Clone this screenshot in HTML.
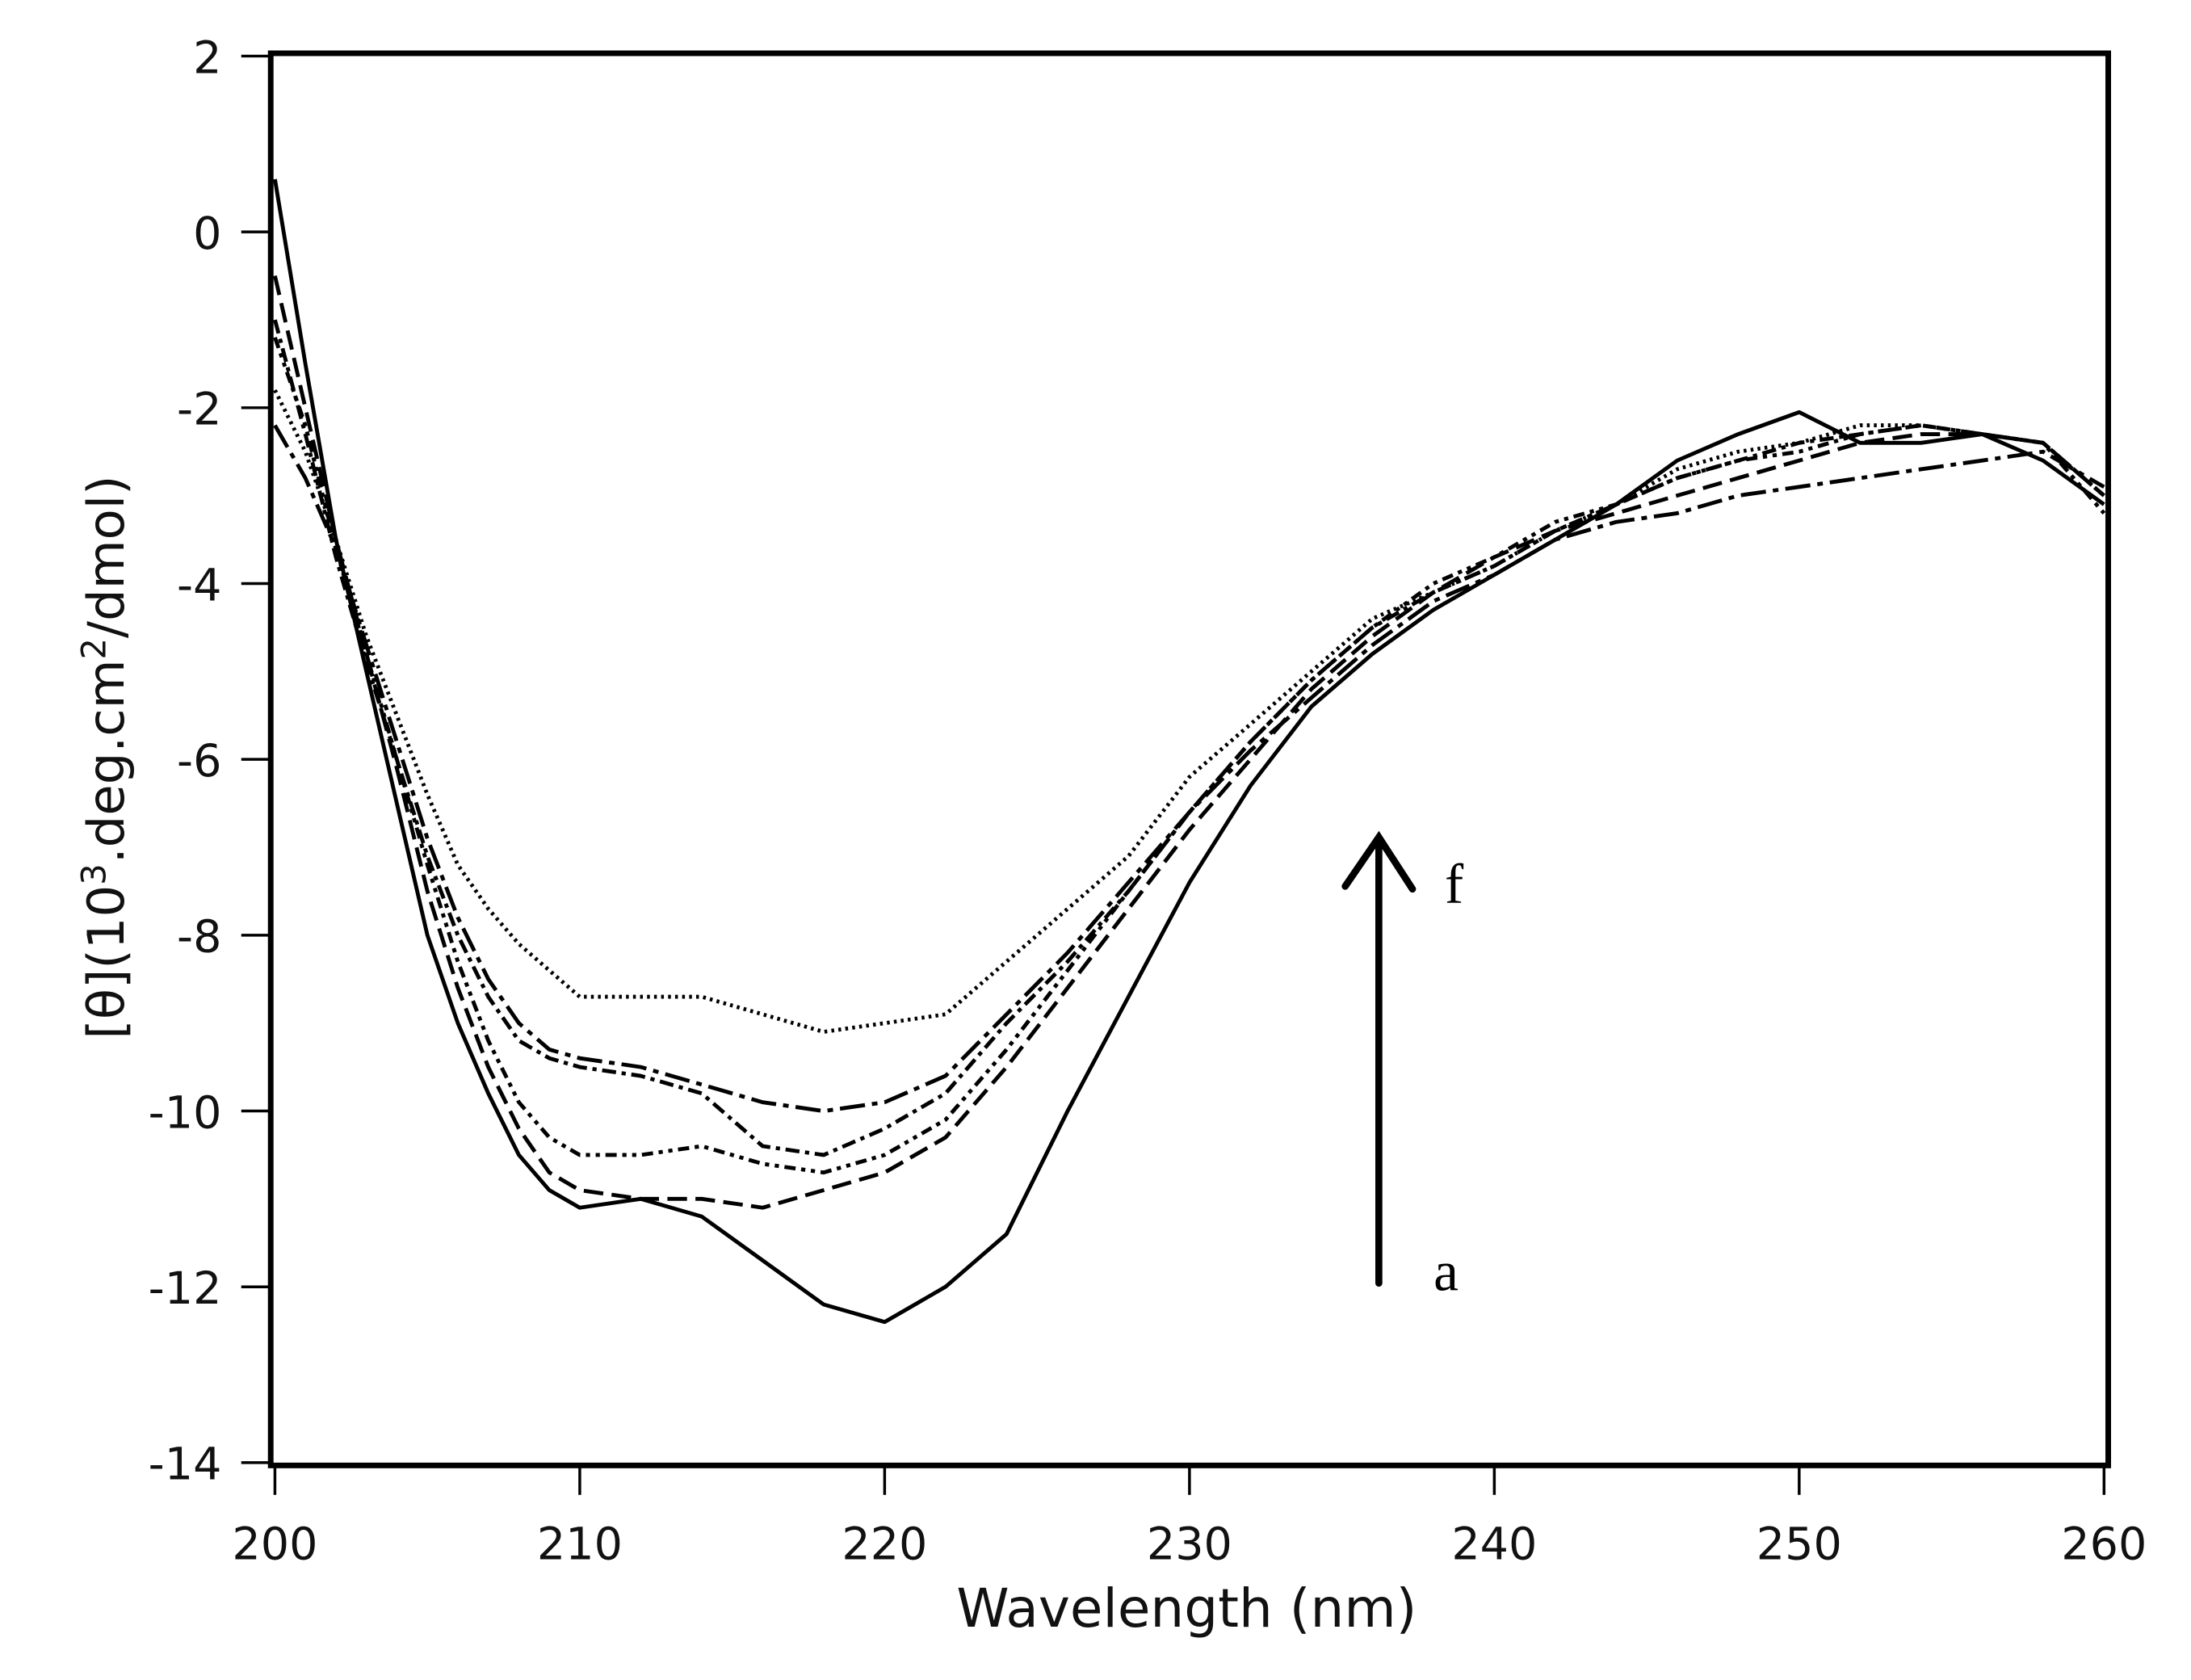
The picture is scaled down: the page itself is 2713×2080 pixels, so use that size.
<!DOCTYPE html>
<html><head><meta charset="utf-8"><style>
html,body{margin:0;padding:0;background:#fff;}
svg{display:block;}
</style></head><body>
<svg id="chart" xmlns="http://www.w3.org/2000/svg" width="2713" height="2080" viewBox="0 0 1562 1198" preserveAspectRatio="none">
<rect x="0" y="0" width="1562" height="1198" fill="#fff"/>
<g id="plot"></g>
</svg>
<script>
const wavelengths = [200,201,202,203,204,205,206,207,208,209,210,212,214,216,218,220,222,224,226,228,230,232,234,236,238,240,242,244,246,248,250,252,254,256,258,260];
const seriesA = [0.6,-1.5,-3.5,-5,-6.5,-8,-9,-9.8,-10.5,-10.9,-11.1,-11,-11.2,-11.7,-12.2,-12.4,-12,-11.4,-10,-8.7,-7.4,-6.3,-5.4,-4.8,-4.3,-3.9,-3.5,-3.1,-2.6,-2.3,-2.05,-2.4,-2.4,-2.3,-2.6,-3.1];
const seriesB = [-0.5,-2,-3.5,-4.8,-6.1,-7.5,-8.6,-9.5,-10.2,-10.7,-10.9,-11,-11,-11.1,-10.9,-10.7,-10.3,-9.5,-8.6,-7.7,-6.8,-6,-5.2,-4.6,-4.1,-3.7,-3.4,-3.2,-3,-2.8,-2.6,-2.4,-2.3,-2.3,-2.4,-3];
const seriesC = [-1.2,-2.2,-3.6,-4.8,-6,-7.2,-8.3,-9.2,-9.9,-10.3,-10.5,-10.5,-10.4,-10.6,-10.7,-10.5,-10.1,-9.3,-8.4,-7.5,-6.6,-5.8,-5.1,-4.5,-4,-3.7,-3.3,-3.1,-2.8,-2.6,-2.5,-2.3,-2.2,-2.3,-2.4,-3.2];
const seriesD = [-1,-2.3,-3.7,-4.9,-6,-7.1,-8,-8.7,-9.2,-9.4,-9.5,-9.6,-9.8,-10.4,-10.5,-10.2,-9.8,-9,-8.3,-7.5,-6.6,-5.8,-5.1,-4.5,-4.1,-3.8,-3.4,-3.1,-2.8,-2.6,-2.4,-2.3,-2.2,-2.3,-2.4,-3];
const seriesE = [-2.2,-2.8,-3.6,-4.7,-5.8,-6.9,-7.8,-8.5,-9,-9.3,-9.4,-9.5,-9.7,-9.9,-10,-9.9,-9.6,-8.9,-8.2,-7.4,-6.6,-5.9,-5.3,-4.7,-4.2,-3.9,-3.5,-3.3,-3.2,-3,-2.9,-2.8,-2.7,-2.6,-2.5,-2.9];
const seriesF = [-1.8,-2.5,-3.5,-4.6,-5.5,-6.4,-7.2,-7.7,-8.1,-8.4,-8.7,-8.7,-8.7,-8.9,-9.1,-9,-8.9,-8.3,-7.7,-7.1,-6.2,-5.6,-5,-4.4,-4.1,-3.8,-3.4,-3.1,-2.7,-2.5,-2.4,-2.2,-2.2,-2.3,-2.4,-3];
const xTicks = [200,210,220,230,240,250,260];
const yTicks = [2,0,-2,-4,-6,-8,-10,-12,-14];

const NS = "http://www.w3.org/2000/svg";
const X0=196, X1=1500, Y0=40, Y1=1043;
function xs(v){return X0+(v-200)/(260-200)*(X1-X0);}
function ys(v){return Y0+(2-v)/(2-(-14))*(Y1-Y0);}
const g = document.getElementById('plot');
function mk(tag, attrs){const e=document.createElementNS(NS,tag);for(const k in attrs)e.setAttribute(k,attrs[k]);g.appendChild(e);return e;}

const seriesList = [
  {d:seriesA, dash:"", name:"series-a"},
  {d:seriesB, dash:"14,6", name:"series-b"},
  {d:seriesC, dash:"8,4,3,4,3,4", name:"series-c"},
  {d:seriesD, dash:"10,4,3,4", name:"series-d"},
  {d:seriesE, dash:"18,5,4,5", name:"series-e"},
  {d:seriesF, dash:"2,3", name:"series-f"}
];
seriesList.forEach(s=>{
  const pts = s.d.map((v,i)=>xs(wavelengths[i]).toFixed(1)+","+ys(v).toFixed(1)).join(" ");
  const p = mk('polyline',{points:pts,fill:'none',stroke:'#000','stroke-width':2.8,'stroke-dasharray':s.dash,'stroke-linejoin':'round'});
  
  
});

const fr = mk('rect',{x:193,y:38,width:1310,height:1007,fill:'none',stroke:'#000','stroke-width':4});



yTicks.forEach(v=>{
  const t = mk('line',{x1:172,x2:193,y1:ys(v),y2:ys(v),stroke:'#000','stroke-width':2});
  
  
  const l = mk('text',{x:158,y:ys(v)+12,'text-anchor':'end','font-family':'"DejaVu Sans","Liberation Sans",sans-serif','font-size':32,fill:'#111'});
  l.textContent = String(v);
  
  
});
xTicks.forEach(v=>{
  const t = mk('line',{x1:xs(v),x2:xs(v),y1:1045,y2:1066,stroke:'#000','stroke-width':2});
  
  
  const l = mk('text',{x:xs(v),y:1112,'text-anchor':'middle','font-family':'"DejaVu Sans","Liberation Sans",sans-serif','font-size':32,fill:'#111'});
  l.textContent = String(v);
  
  
});

const xt = mk('text',{x:846,y:1160,'text-anchor':'middle','font-family':'"DejaVu Sans","Liberation Sans",sans-serif','font-size':38,fill:'#111'});
xt.textContent = 'Wavelength (nm)';


const yt = mk('text',{x:0,y:0,'text-anchor':'middle','font-family':'"DejaVu Sans","Liberation Sans",sans-serif','font-size':36,fill:'#111',transform:'translate(88,540) rotate(-90)'});
yt.innerHTML = '[θ](10<tspan dy="-13" font-size="24">3</tspan><tspan dy="13">.deg.cm</tspan><tspan dy="-13" font-size="24">2</tspan><tspan dy="13">/dmol)</tspan>';



const ar = mk('path',{d:'M983,915 L983,598 M959,632 L983,597 L1007,634',fill:'none',stroke:'#000','stroke-width':5,'stroke-linecap':'round'});


const lf = mk('text',{x:1030,y:644,'font-family':'"Liberation Serif",serif','font-size':40,fill:'#000'});
lf.textContent = 'f';


const la = mk('text',{x:1022,y:920,'font-family':'"Liberation Serif",serif','font-size':40,fill:'#000'});
la.textContent = 'a';


</script>
</body></html>
